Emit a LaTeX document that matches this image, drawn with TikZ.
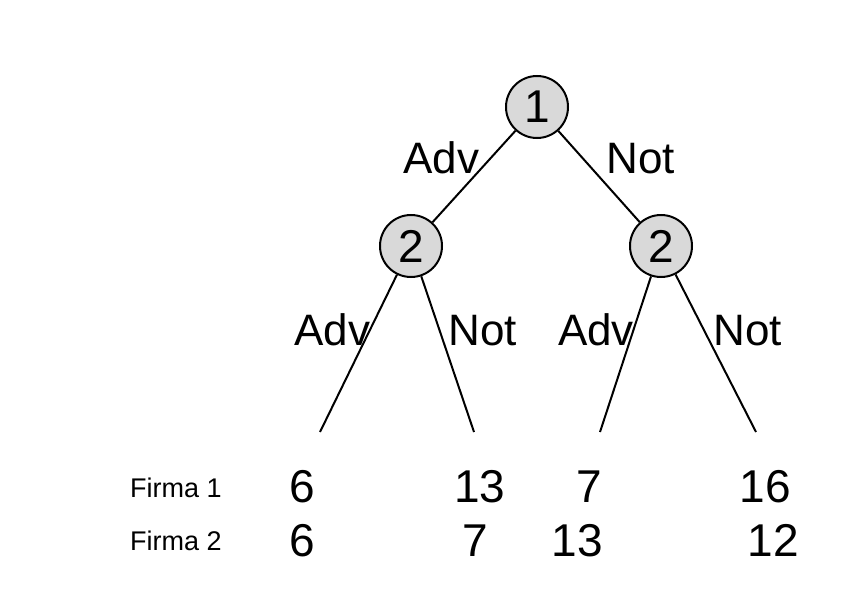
\documentclass[tikz,border=0pt]{standalone}
\usepackage{fontspec}
\setmainfont{Liberation Sans}
\usetikzlibrary{positioning}

\begin{document}
\begin{tikzpicture}
[x=1pt, y=-1pt, font=\fontsize{44}{50}\selectfont,
% STYLES
% The player style is used for the decision nodes of the firms
player/.style={circle, draw, line width=2pt, fill={rgb,255:red,217;green,217;blue,217}, minimum size=62pt, inner sep=0pt, font=\fontsize{46}{50}\selectfont},
% Labels of the moves on the branches
move/.style={anchor=base, inner sep=0pt},
% Payoffs at the end of the tree
payoff/.style={anchor=base, inner sep=0pt, font=\fontsize{46}{50}\selectfont},
firm/.style={anchor=base west, inner sep=0pt, font=\fontsize{27}{30}\selectfont}]

\useasboundingbox (0,0) rectangle (867,591);

% Draw decision nodes
\node [player] (first) at (537,107) {1};
\node [player] (second-adv) at (411,246) {2};
\node [player] (second-not) at (661,246) {2};

% end points of the branches
\coordinate (end-aa) at (320,432);
\coordinate (end-an) at (474,432);
\coordinate (end-na) at (600,432);
\coordinate (end-nn) at (756,432);

%%%%%%%%%%%%%%%

% moves
\node [move] (adv-first) at (441.5,173) {Adv};
\node [move] (not-first) at (640.5,173) {Not};

\node [move] (adv-aa) at (332.5,345) {Adv};
\node [move] (not-an) at (482.5,345) {Not};
\node [move] (adv-na) at (596,345) {Adv};
\node [move] (not-nn) at (747.5,345) {Not};

% payoffs
\node [firm] (firm-one) at (130,497) {Firma 1};
\node [firm] (firm-two) at (130,550) {Firma 2};

\node [payoff] (pay-one-aa) at (302,502) {6};
\node [payoff] (pay-one-an) at (480,502) {13};
\node [payoff] (pay-one-na) at (589,502) {7};
\node [payoff] (pay-one-nn) at (765,502) {16};

\node [payoff] (pay-two-aa) at (302,556) {6};
\node [payoff] (pay-two-an) at (475,556) {7};
\node [payoff] (pay-two-na) at (577,556) {13};
\node [payoff] (pay-two-nn) at (773,556) {12};

%%%%%%%%%%%%%%%%

\path[line width=2pt]
(first) edge (second-adv)
(first) edge (second-not)
(second-adv) edge (end-aa)
(second-adv) edge (end-an)
(second-not) edge (end-na)
(second-not) edge (end-nn);

\end{tikzpicture}
\end{document}
